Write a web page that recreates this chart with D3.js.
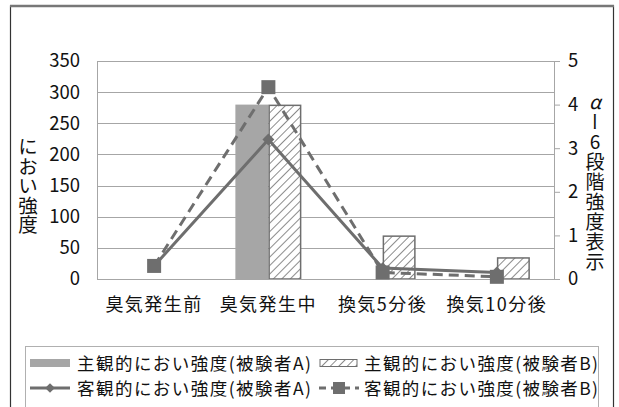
<!DOCTYPE html>
<html>
<head>
<meta charset="utf-8">
<script src="https://cdn.jsdelivr.net/npm/d3@7"></script>
<style>
  body { margin: 0; background: #fff; }
  text { font-family: "Noto Sans CJK JP", "Noto Sans", sans-serif; fill: #111; }
</style>
</head>
<body>
<div id="chart"></div>
<script>
const categories = ["臭気発生前", "臭気発生中", "換気5分後", "換気10分後"];
const subjA = [0, 280, 0, 0];        // 主観的におい強度(被験者A)
const subjB = [0, 280, 70, 35];      // 主観的におい強度(被験者B)
const objA = [0.3, 3.2, 0.25, 0.15]; // 客観的におい強度(被験者A)
const objB = [0.3, 4.4, 0.15, 0.05]; // 客観的におい強度(被験者B)
const leftTicks = [0, 50, 100, 150, 200, 250, 300, 350];
const rightTicks = [0, 1, 2, 3, 4, 5];
const legendNames = ["主観的におい強度(被験者A)", "主観的におい強度(被験者B)",
                     "客観的におい強度(被験者A)", "客観的におい強度(被験者B)"];

let width = 619, height = 407;
let margin = ({top: 61, right: 65, bottom: 128, left: 97});
let grey = "#6e6e6e";

let svg = d3.select("#chart").append("svg")
    .attr("width", width).attr("height", height);

let defs = svg.append("defs");
let pat = defs.append("pattern").attr("id", "hatch")
    .attr("patternUnits", "userSpaceOnUse")
    .attr("width", 6).attr("height", 6)
    .attr("patternTransform", "rotate(45)");
pat.append("rect").attr("width", 6).attr("height", 6).attr("fill", "#fff");
pat.append("line").attr("x1", 0).attr("y1", 0).attr("x2", 0).attr("y2", 6)
    .attr("stroke", grey).attr("stroke-width", 1.6);

// outer frame
svg.append("rect").attr("x", 10.5).attr("y", 6).attr("width", 603).attr("height", 420)
    .attr("fill", "none").attr("stroke", "#333").attr("stroke-width", 1.2);
svg.append("line").attr("x1", 10).attr("x2", 614).attr("y1", 6).attr("y2", 6)
    .attr("stroke", "#777").attr("stroke-width", 2.5);

let x = d3.scaleBand().domain(categories)
    .range([margin.left, width - margin.right]);
let y = d3.scaleLinear().domain([0, 350]).range([height - margin.bottom, margin.top]);
let y2 = d3.scaleLinear().domain([0, 5]).range([height - margin.bottom, margin.top]);

// gridlines
svg.append("g").selectAll("line").data(leftTicks).join("line")
    .attr("x1", margin.left).attr("x2", width - margin.right)
    .attr("y1", d => Math.round(y(d)) + 0.5).attr("y2", d => Math.round(y(d)) + 0.5)
    .attr("stroke", "#a6a6a6").attr("stroke-width", 1);

// left axis (labels only)
svg.append("g")
    .attr("transform", `translate(${margin.left},0)`)
    .call(d3.axisLeft(y).tickValues(leftTicks).tickSize(0).tickPadding(17))
    .call(g => g.select(".domain").attr("stroke", "#a6a6a6"))
    .call(g => g.selectAll("text").attr("font-size", 18.5).style("fill", "#111"));

// right axis
svg.append("g")
    .attr("transform", `translate(${width - margin.right},0)`)
    .call(d3.axisRight(y2).tickValues(rightTicks).tickFormat(d3.format("d"))
        .tickSize(6).tickPadding(8))
    .call(g => g.selectAll(".domain, line").attr("stroke", "#a6a6a6"))
    .call(g => g.selectAll("text").attr("font-size", 18.5).style("fill", "#111"));

// bars
let barW = 33;
let bars = svg.append("g");
bars.selectAll(".barA").data(subjA).join("rect").attr("class", "barA")
    .attr("x", (d, i) => x(categories[i]) + x.bandwidth() / 2 - barW)
    .attr("y", d => y(d)).attr("width", barW)
    .attr("height", d => y(0) - y(d))
    .attr("fill", "#a6a6a6");
bars.selectAll(".barB").data(subjB).join("rect").attr("class", "barB")
    .attr("x", (d, i) => x(categories[i]) + x.bandwidth() / 2 + 0.75)
    .attr("y", d => y(d) + 0.75).attr("width", barW - 1.5)
    .attr("height", d => Math.max(0, y(0) - y(d) - 0.75))
    .attr("fill", "url(#hatch)").attr("stroke", grey).attr("stroke-width", 1.5)
    .attr("display", d => d > 0 ? null : "none");

// bottom axis line
svg.append("line").attr("x1", margin.left).attr("x2", width - margin.right)
    .attr("y1", y(0) + 0.5).attr("y2", y(0) + 0.5).attr("stroke", "#a6a6a6");

// category labels
svg.append("g").selectAll("text").data(categories).join("text")
    .attr("x", d => x(d) + x.bandwidth() / 2)
    .attr("y", y(0) + 32)
    .attr("text-anchor", "middle").attr("font-size", 18)
    .style("letter-spacing", "1.5px")
    .text(d => d);

// lines
let cx = (d, i) => x(categories[i]) + x.bandwidth() / 2;
let line = d3.line().x(cx).y(d => y2(d));
svg.append("path").datum(objA).attr("d", line)
    .attr("fill", "none").attr("stroke", grey).attr("stroke-width", 3);
svg.append("g").selectAll("path").data(objA).join("path")
    .attr("d", d3.symbol(d3.symbolDiamond2, 90))
    .attr("transform", (d, i) => `translate(${cx(d, i)},${y2(d)})`)
    .attr("fill", grey);

svg.append("path").datum(objB).attr("d", line)
    .attr("fill", "none").attr("stroke", grey).attr("stroke-width", 3)
    .attr("stroke-dasharray", "10,6");
svg.append("g").selectAll("rect").data(objB).join("rect")
    .attr("x", (d, i) => cx(d, i) - 7).attr("y", d => y2(d) - 7)
    .attr("width", 14).attr("height", 14)
    .attr("fill", grey);

// axis titles
svg.append("text")
    .attr("x", 28).attr("y", 186)
    .attr("text-anchor", "middle").attr("font-size", 19.5)
    .style("writing-mode", "vertical-rl").style("text-orientation", "upright")
    .text("におい強度");

let rt = svg.append("text")
    .attr("x", 595).attr("y", 182)
    .attr("text-anchor", "middle").attr("font-size", 19)
    .style("writing-mode", "vertical-rl").style("text-orientation", "upright")
    .style("letter-spacing", "1px");
rt.append("tspan").style("font-style", "italic").text("α");
rt.append("tspan").text("ー6段階強度表示");

// legend
let lg = svg.append("g");
lg.append("rect").attr("x", 25.5).attr("y", 346.5).attr("width", 573).attr("height", 70)
    .attr("fill", "#fff").attr("stroke", "#b0b0b0");
let col = [30, 319];
let row = [363, 388];
let items = legendNames.map((n, i) => ({name: n, c: i % 2, r: Math.floor(i / 2)}));
lg.selectAll("text").data(items).join("text")
    .attr("x", d => col[d.c] + (d.c ? 45 : 47)).attr("y", d => row[d.r] + 6.5)
    .attr("font-size", 17.5)
    .attr("textLength", 234).attr("lengthAdjust", "spacing")
    .text(d => d.name);

lg.append("rect").attr("x", col[0]).attr("y", row[0] - 4).attr("width", 40).attr("height", 8)
    .attr("fill", "#a6a6a6");
lg.append("rect").attr("x", col[1] + 1).attr("y", row[0] - 3.5).attr("width", 37).attr("height", 7)
    .attr("fill", "url(#hatch)").attr("stroke", grey).attr("stroke-width", 1);
lg.append("line").attr("x1", col[0]).attr("x2", col[0] + 40).attr("y1", row[1]).attr("y2", row[1])
    .attr("stroke", grey).attr("stroke-width", 3);
lg.append("path").attr("d", d3.symbol(d3.symbolDiamond2, 60))
    .attr("transform", `translate(${col[0] + 20},${row[1]})`).attr("fill", grey);
lg.append("line").attr("x1", col[1]).attr("x2", col[1] + 40).attr("y1", row[1]).attr("y2", row[1])
    .attr("stroke", grey).attr("stroke-width", 3).attr("stroke-dasharray", "7,5");
lg.append("rect").attr("x", col[1] + 14).attr("y", row[1] - 6).attr("width", 12).attr("height", 12)
    .attr("fill", grey);
</script>
</body>
</html>
